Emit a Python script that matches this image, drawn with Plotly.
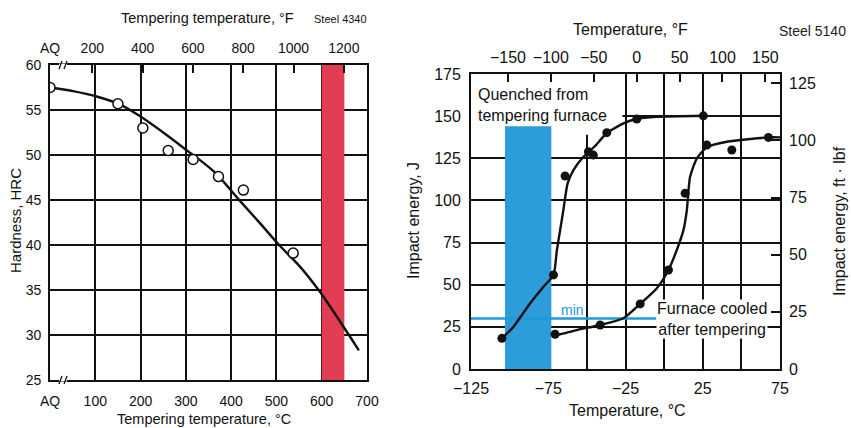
import plotly.graph_objects as go

# ---------------- Data: Steel 4340 (left panel) ----------------
hard_temp_c = [0, 150, 205, 261, 316, 372, 427, 537]
hard_hrc = [57.5, 55.7, 53.0, 50.5, 49.5, 47.6, 46.1, 39.1]
hard_curve_temp_c = [0, 51, 103, 155, 199, 250, 300, 361, 416, 464, 506, 552, 596, 660, 682]
hard_curve_hrc = [57.5, 57.1, 56.5, 55.6, 54.3, 52.5, 50.6, 48.2, 45.1, 42.4, 40.0, 37.6, 34.8, 30.0, 28.3]
left_c_ticks = [0, 100, 200, 300, 400, 500, 600, 700]
left_c_labels = ["AQ", "100", "200", "300", "400", "500", "600", "700"]
left_f_ticks = [32, 200, 400, 600, 800, 1000, 1200]
left_f_labels = ["AQ", "200", "400", "600", "800", "1000", "1200"]
hrc_ticks = [25, 30, 35, 40, 45, 50, 55, 60]
red_band_c = [600, 650]

# ---------------- Data: Steel 5140 (right panel) ----------------
quench_temp_c = [-105, -71.6, -64.1, -49, -45.8, -37.1, -17.7, 25.4]
quench_j = [18.2, 55.8, 114.5, 128.9, 126.9, 140.2, 148.3, 150.2]
quench_curve_temp_c = [-105, -97.5, -86.7, -78.1, -71.6, -69.4, -67.3, -65.2, -62.5, -58.7, -52.2, -45, -37, -26.3, -17.7, -4.7, 25.4]
quench_curve_j = [18.2, 25.1, 39.0, 48.8, 55.8, 70.6, 82.4, 94.3, 110, 118.0, 125.9, 132, 140.0, 145.7, 148.3, 149.6, 150.2]
furnace_temp_c = [-70.6, -41.4, -15.5, 2.8, 13.6, 27.6, 43.8, 67.5]
furnace_j = [20.6, 26.1, 38.6, 58.7, 104.2, 132.9, 129.9, 137.4]
furnace_curve_temp_c = [-72, -56.5, -41.4, -26.3, -15.5, -4.7, 2.8, 8.2, 12.5, 14.7, 16.8, 21.2, 27.6, 40.6, 67.5, 75]
furnace_curve_j = [19.5, 23.1, 26.1, 30.1, 38.6, 47.9, 58.7, 70.6, 82.4, 94.3, 114.0, 125.0, 131.5, 134.8, 137.4, 137.4]
min_energy_j = 30
min_line_temp_c = [-125, -5]
blue_band_c = [-103, -73]
blue_band_top_j = 144
right_c_ticks = [-125, -100, -75, -50, -25, 0, 25, 50, 75]
right_c_labels = ["\u2212125", "", "\u221275", "", "\u221225", "", "25", "", "75"]
right_f_ticks = [-150, -100, -50, 0, 50, 100, 150]
right_f_labels = ["\u2212150", "\u2212100", "\u221250", "0", "50", "100", "150"]
j_ticks = [0, 25, 50, 75, 100, 125, 150, 175]
ftlbf_ticks = [0, 25, 50, 75, 100, 125]
J_PER_FTLBF = 1.35582

W, H = 851, 428
def px(x):
    return x / W
def py(y):
    return 1 - y / H

LF = "Liberation Sans Narrow, Arial Narrow, Liberation Sans, sans-serif"
RF = "Liberation Sans, Arial, sans-serif"
BLACK = "#111111"
CYAN = "#1e9ad6"

fig = go.Figure()

# Left panel traces
fig.add_trace(go.Scatter(x=hard_curve_temp_c, y=hard_curve_hrc, mode="lines",
                         line=dict(color=BLACK, width=2.4, shape="spline", smoothing=1.0),
                         xaxis="x", yaxis="y", hoverinfo="skip", showlegend=False))
fig.add_trace(go.Scatter(x=hard_temp_c, y=hard_hrc, mode="markers",
                         marker=dict(symbol="circle", size=10, color="white",
                                     line=dict(color=BLACK, width=1.5)),
                         xaxis="x", yaxis="y", showlegend=False))
# invisible trace to bind the °F axis
fig.add_trace(go.Scatter(x=[c * 1.8 + 32 for c in hard_temp_c], y=hard_hrc, mode="markers",
                         marker=dict(opacity=0), xaxis="x2", yaxis="y",
                         hoverinfo="skip", showlegend=False))

# Right panel traces
fig.add_trace(go.Scatter(x=min_line_temp_c, y=[min_energy_j] * len(min_line_temp_c), mode="lines",
                         line=dict(color=CYAN, width=2.5), xaxis="x3", yaxis="y3",
                         hoverinfo="skip", showlegend=False))
fig.add_trace(go.Scatter(x=quench_curve_temp_c, y=quench_curve_j, mode="lines",
                         line=dict(color=BLACK, width=2.4, shape="spline", smoothing=0.6),
                         xaxis="x3", yaxis="y3", hoverinfo="skip", showlegend=False))
fig.add_trace(go.Scatter(x=quench_temp_c, y=quench_j, mode="markers",
                         marker=dict(size=9, color=BLACK),
                         xaxis="x3", yaxis="y3", showlegend=False))
fig.add_trace(go.Scatter(x=furnace_curve_temp_c, y=furnace_curve_j, mode="lines",
                         line=dict(color=BLACK, width=2.4, shape="spline", smoothing=0.6),
                         xaxis="x3", yaxis="y3", hoverinfo="skip", showlegend=False))
fig.add_trace(go.Scatter(x=furnace_temp_c, y=furnace_j, mode="markers",
                         marker=dict(size=9, color=BLACK),
                         xaxis="x3", yaxis="y3", showlegend=False))
# invisible traces binding the °F and ft·lbf axes
fig.add_trace(go.Scatter(x=[c * 1.8 + 32 for c in furnace_temp_c], y=furnace_j, mode="markers",
                         marker=dict(opacity=0), xaxis="x4", yaxis="y3",
                         hoverinfo="skip", showlegend=False))
fig.add_trace(go.Scatter(x=furnace_temp_c, y=[j / J_PER_FTLBF for j in furnace_j], mode="markers",
                         marker=dict(opacity=0), xaxis="x3", yaxis="y4",
                         hoverinfo="skip", showlegend=False))

grid = dict(showgrid=True, gridcolor=BLACK, gridwidth=1.5, zeroline=False, automargin=False)

fig.update_layout(
    width=W, height=H, margin=dict(l=0, r=0, t=0, b=0, pad=0, autoexpand=False),
    paper_bgcolor="white", plot_bgcolor="white", showlegend=False,
    xaxis=dict(domain=[px(50), px(367)], anchor="y", range=[0, 700],
               tickmode="array", tickvals=left_c_ticks, ticktext=left_c_labels,
               ticks="", ticklabelstandoff=7, showline=True, linecolor=BLACK, linewidth=1.8,
               tickfont=dict(family=LF, size=14, color=BLACK), **grid),
    xaxis2=dict(overlaying="x", side="top", anchor="y", range=[32, 1292],
                tickmode="array", tickvals=left_f_ticks, ticktext=left_f_labels,
                ticks="inside", ticklen=8, tickwidth=1.5, tickcolor=BLACK, ticklabelstandoff=5,
                showgrid=False, zeroline=False, showline=True, linecolor=BLACK, linewidth=1.8,
                automargin=False, tickfont=dict(family=LF, size=14, color=BLACK)),
    yaxis=dict(domain=[py(380), py(65)], anchor="x", range=[25, 60],
               tickmode="array", tickvals=hrc_ticks, ticks="", ticklabelstandoff=4,
               showline=True, mirror=True, linecolor=BLACK, linewidth=1.8,
               tickfont=dict(family=LF, size=14, color=BLACK), **grid),
    xaxis3=dict(domain=[px(471), px(780)], anchor="y3", range=[-125, 75],
                tickmode="array", tickvals=right_c_ticks, ticktext=right_c_labels,
                ticks="", ticklabelstandoff=4, showline=True, linecolor=BLACK, linewidth=1.8,
                tickfont=dict(family=RF, size=16, color=BLACK), **grid),
    xaxis4=dict(overlaying="x3", side="top", anchor="y3", range=[-193, 167],
                tickmode="array", tickvals=right_f_ticks, ticktext=right_f_labels,
                ticks="inside", ticklen=8, tickwidth=1.5, tickcolor=BLACK, ticklabelstandoff=3,
                showgrid=False, zeroline=False, showline=True, linecolor=BLACK, linewidth=1.8,
                automargin=False, tickfont=dict(family=RF, size=16, color=BLACK)),
    yaxis3=dict(domain=[py(369), py(74)], anchor="x3", range=[0, 175],
                tickmode="array", tickvals=j_ticks, ticks="", ticklabelstandoff=5,
                showline=True, linecolor=BLACK, linewidth=1.8,
                tickfont=dict(family=RF, size=16, color=BLACK), **grid),
    yaxis4=dict(overlaying="y3", side="right", anchor="x3", range=[0, 175 / J_PER_FTLBF],
                tickmode="array", tickvals=ftlbf_ticks, ticks="inside", ticklen=9,
                tickwidth=1.5, tickcolor=BLACK, ticklabelstandoff=4,
                showgrid=False, zeroline=False, showline=True, linecolor=BLACK, linewidth=1.8,
                automargin=False, tickfont=dict(family=RF, size=16, color=BLACK)),
)

shapes = [
    # red tempering band (left)
    dict(type="rect", xref="x", yref="y", x0=red_band_c[0], x1=red_band_c[1], y0=25, y1=60,
         fillcolor="#e23d52", line=dict(width=0), layer="between"),
    # white area behind "Quenched from" label
    dict(type="rect", xref="x3", yref="y3", x0=-125, x1=-27, y0=139, y1=175,
         fillcolor="white", line=dict(width=0), layer="between"),
    # blue band (right)
    dict(type="rect", xref="x3", yref="y3", x0=blue_band_c[0], x1=blue_band_c[1], y0=0,
         y1=blue_band_top_j, fillcolor="#2c9dd9", line=dict(width=0), layer="between"),
]
# axis break marks on left panel
for yb in (65, 380):
    shapes.append(dict(type="rect", xref="paper", yref="paper", x0=px(59), x1=px(67),
                       y0=py(yb + 1.5), y1=py(yb - 1.5), fillcolor="white",
                       line=dict(width=0), layer="above"))
    for xb in (59, 64):
        shapes.append(dict(type="line", xref="paper", yref="paper", x0=px(xb), x1=px(xb + 3),
                           y0=py(yb + 4), y1=py(yb - 4), line=dict(color=BLACK, width=1.3),
                           layer="above"))
fig.update_layout(shapes=shapes)

ann = [
    dict(x=px(207), y=py(18), text="Tempering temperature, \u00b0F",
         font=dict(family=LF, size=14.5, color=BLACK)),
    dict(x=px(340), y=py(19), text="Steel 4340", font=dict(family=RF, size=11, color=BLACK)),
    dict(x=px(204), y=py(419), text="Tempering temperature, \u00b0C",
         font=dict(family=LF, size=14.5, color=BLACK)),
    dict(x=px(15), y=py(221), text="Hardness, HRC", textangle=-90,
         font=dict(family=LF, size=15, color=BLACK)),
    dict(x=px(630), y=py(29), text="Temperature, \u00b0F", font=dict(family=RF, size=16, color=BLACK)),
    dict(x=px(812), y=py(31), text="Steel 5140", font=dict(family=RF, size=14, color="#222222")),
    dict(x=px(627), y=py(410), text="Temperature, \u00b0C", font=dict(family=RF, size=16, color=BLACK)),
    dict(x=px(413), y=py(221), text="Impact energy, J", textangle=-90,
         font=dict(family=RF, size=16, color=BLACK)),
    dict(x=px(839), y=py(221), text="Impact energy, ft \u00b7 lbf", textangle=-90,
         font=dict(family=RF, size=16, color=BLACK)),
    dict(x=px(477), y=py(105), xanchor="left", align="left",
         text="Quenched from<br>tempering furnace", bgcolor="white", borderpad=0,
         font=dict(family=RF, size=16, color=BLACK)),
    dict(x=px(712), y=py(318.5), text="Furnace cooled<br>after tempering",
         bgcolor="white", borderpad=0, font=dict(family=RF, size=16, color=BLACK)),
    dict(x=px(572), y=py(310), text="min", font=dict(family=RF, size=14, color=CYAN)),
]
for a in ann:
    a.setdefault("xref", "paper")
    a.setdefault("yref", "paper")
    a.setdefault("showarrow", False)
    a.setdefault("xanchor", "center")
    a.setdefault("yanchor", "middle")
fig.update_layout(annotations=ann)

fig.write_html("out.html", config={"displayModeBar": False},
               post_script="document.body.style.margin='0';document.body.style.overflow='hidden';")
